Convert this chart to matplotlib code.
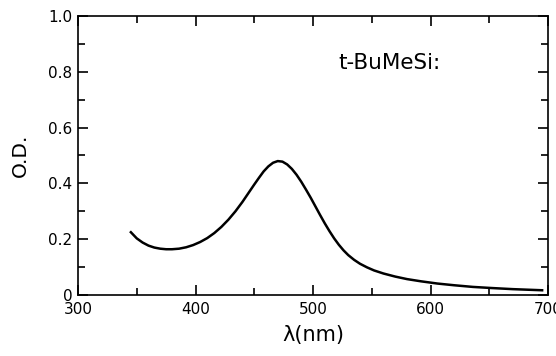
import matplotlib
matplotlib.use('Agg')
import matplotlib.pyplot as plt
from matplotlib.ticker import MultipleLocator

# absorption spectrum
wavelength = [345, 350, 355, 360, 365, 370, 375, 380, 386, 392, 398, 404, 410,
              416, 422, 428, 434, 440, 445, 450, 454, 458, 462, 466, 470, 474,
              478, 482, 486, 490, 494, 498, 502, 506, 510, 514, 518, 522, 526,
              530, 535, 540, 546, 552, 560, 570, 580, 592, 606, 620, 636, 652,
              670, 695]
od = [0.225, 0.203, 0.188, 0.177, 0.170, 0.166, 0.164, 0.164, 0.166, 0.171,
      0.179, 0.190, 0.204, 0.222, 0.244, 0.270, 0.300, 0.334, 0.365, 0.396,
      0.420, 0.443, 0.461, 0.474, 0.480, 0.478, 0.468, 0.452, 0.431, 0.406,
      0.378, 0.349, 0.318, 0.287, 0.257, 0.229, 0.203, 0.180, 0.160, 0.143,
      0.126, 0.112, 0.099, 0.088, 0.077, 0.066, 0.057, 0.049, 0.041, 0.035,
      0.029, 0.025, 0.021, 0.017]

xticks = [300, 400, 500, 600, 700]
yticks = [0, 0.2, 0.4, 0.6, 0.8, 1.0]
ytick_labels = ['0', '0.2', '0.4', '0.6', '0.8', '1.0']

plt.rcParams['font.family'] = ['DejaVu Sans']

fig = plt.figure(figsize=(5.56, 3.56), dpi=100)
ax = fig.add_axes([78 / 556, 1 - 295 / 356, (548 - 78) / 556, (295 - 16) / 356])

ax.plot(wavelength, od, color='black', lw=1.8)

ax.set_xlim(300, 700)
ax.set_ylim(0, 1.0)
ax.set_xticks(xticks)
ax.set_xticklabels([str(t) for t in xticks])
ax.set_yticks(yticks)
ax.set_yticklabels(ytick_labels)
ax.xaxis.set_minor_locator(MultipleLocator(50))
ax.yaxis.set_minor_locator(MultipleLocator(0.1))
ax.tick_params(which='both', direction='in', top=True, right=True,
               width=1.2, labelsize=11)
ax.tick_params(which='major', length=7)
ax.tick_params(which='minor', length=5)
ax.tick_params(axis='x', pad=5)
ax.tick_params(axis='y', pad=4)
for s in ax.spines.values():
    s.set_linewidth(1.2)

ax.set_xlabel('λ(nm)', fontsize=15, labelpad=6)
ax.set_ylabel('O.D.', fontsize=14.5, labelpad=13)

ax.text(0.555, 0.83, 't-BuMeSi:', transform=ax.transAxes, fontsize=15.5,
        ha='left', va='center')

fig.savefig('out.png', dpi=100)
